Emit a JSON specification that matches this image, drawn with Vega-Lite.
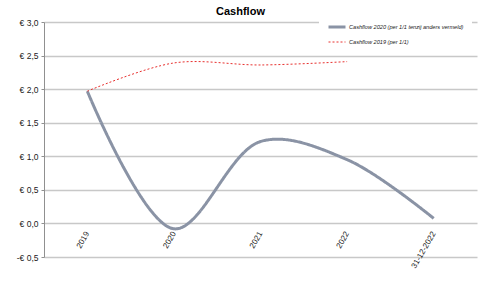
{
  "$schema": "https://vega.github.io/schema/vega-lite/v6.json",
  "width": 433,
  "height": 235,
  "autosize": {"type": "none"},
  "padding": {"left": 44, "top": 22, "right": 3, "bottom": 31},
  "background": "white",
  "title": {
    "text": "Cashflow",
    "font": "Liberation Sans",
    "fontSize": 11,
    "fontWeight": "bold",
    "color": "#000000",
    "anchor": "middle",
    "dx": -20,
    "offset": -8
  },
  "data": {
    "values": [
      {"periode": "2019", "reeks": "Cashflow 2020 (per 1/1 tenzij anders vermeld)", "waarde": 1.97},
      {"periode": "2020", "reeks": "Cashflow 2020 (per 1/1 tenzij anders vermeld)", "waarde": -0.08},
      {"periode": "2021", "reeks": "Cashflow 2020 (per 1/1 tenzij anders vermeld)", "waarde": 1.22},
      {"periode": "2022", "reeks": "Cashflow 2020 (per 1/1 tenzij anders vermeld)", "waarde": 0.95},
      {"periode": "31-12-2022", "reeks": "Cashflow 2020 (per 1/1 tenzij anders vermeld)", "waarde": 0.075},
      {"periode": "2019", "reeks": "Cashflow 2019 (per 1/1)", "waarde": 1.97},
      {"periode": "2020", "reeks": "Cashflow 2019 (per 1/1)", "waarde": 2.39},
      {"periode": "2021", "reeks": "Cashflow 2019 (per 1/1)", "waarde": 2.36},
      {"periode": "2022", "reeks": "Cashflow 2019 (per 1/1)", "waarde": 2.41}
    ]
  },
  "mark": {"type": "line", "interpolate": "catmull-rom"},
  "encoding": {
    "x": {
      "field": "periode",
      "type": "ordinal",
      "sort": ["2019", "2020", "2021", "2022", "31-12-2022"],
      "scale": {"padding": 0.5},
      "axis": {
        "title": null,
        "offset": -34,
        "domain": false,
        "ticks": false,
        "grid": false,
        "labelAngle": -60,
        "labelAlign": "right",
        "labelBaseline": "middle",
        "labelPadding": 9,
        "labelFont": "Liberation Sans",
        "labelFontSize": 8,
        "labelColor": "#222222"
      }
    },
    "y": {
      "field": "waarde",
      "type": "quantitative",
      "scale": {"domain": [-0.5, 3], "nice": false, "zero": false},
      "axis": {
        "title": null,
        "values": [-0.5, 0, 0.5, 1, 1.5, 2, 2.5, 3],
        "labelExpr": "(datum.value < 0 ? '-€ ' : '€ ') + replace(format(abs(datum.value), '.1f'), '.', ',')",
        "labelFont": "Liberation Sans",
        "labelFontSize": 8.5,
        "labelColor": "#222222",
        "labelPadding": 3,
        "domain": true,
        "domainColor": "#909090",
        "ticks": true,
        "tickSize": 3,
        "tickColor": "#909090",
        "grid": true,
        "gridColor": "#c8c8c8",
        "gridWidth": 1.5
      }
    },
    "color": {
      "field": "reeks",
      "type": "nominal",
      "sort": ["Cashflow 2020 (per 1/1 tenzij anders vermeld)", "Cashflow 2019 (per 1/1)"],
      "scale": {
        "domain": ["Cashflow 2020 (per 1/1 tenzij anders vermeld)", "Cashflow 2019 (per 1/1)"],
        "range": ["#8a93a5", "#e8302e"]
      },
      "legend": {
        "title": null,
        "orient": "none",
        "legendX": 275,
        "legendY": -13,
        "direction": "vertical",
        "fillColor": "white",
        "padding": 8,
        "rowPadding": 0,
        "symbolType": "stroke",
        "symbolSize": 289,
        "labelFont": "Liberation Sans",
        "labelFontSize": 5.6,
        "labelFontStyle": "italic",
        "labelColor": "#222222",
        "labelLimit": 200,
        "labelOffset": 2
      }
    },
    "strokeDash": {
      "field": "reeks",
      "type": "nominal",
      "sort": ["Cashflow 2020 (per 1/1 tenzij anders vermeld)", "Cashflow 2019 (per 1/1)"],
      "scale": {
        "domain": ["Cashflow 2020 (per 1/1 tenzij anders vermeld)", "Cashflow 2019 (per 1/1)"],
        "range": [[1, 0], [2, 2]]
      },
      "legend": null
    },
    "strokeWidth": {
      "field": "reeks",
      "type": "nominal",
      "sort": ["Cashflow 2020 (per 1/1 tenzij anders vermeld)", "Cashflow 2019 (per 1/1)"],
      "scale": {
        "domain": ["Cashflow 2020 (per 1/1 tenzij anders vermeld)", "Cashflow 2019 (per 1/1)"],
        "range": [3, 1]
      },
      "legend": null
    }
  },
  "config": {"view": {"stroke": null}}
}
